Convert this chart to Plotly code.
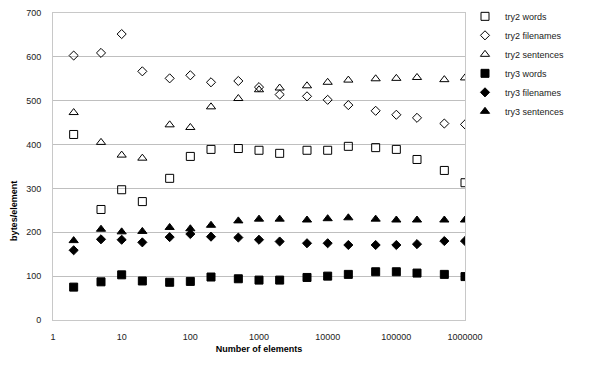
import plotly.graph_objects as go

x_vals = [2, 5, 10, 20, 50, 100, 200, 500, 1000, 2000, 5000, 10000, 20000,
          50000, 100000, 200000, 500000, 1000000]

try2_words = [423, 252, 297, 270, 323, 373, 389, 391, 387, 380, 387, 387, 396,
              393, 389, 366, 341, 313]
try2_filenames = [603, 609, 652, 567, 551, 558, 542, 545, 531, 514, 510, 502, 490,
                  477, 468, 461, 448, 446]
try2_sentences = [473, 405, 376, 369, 445, 439, 486, 505, 525, 529, 534, 542, 547,
                  550, 551, 553, 548, 552]
try3_words = [75, 87, 103, 89, 86, 88, 98, 94, 91, 91, 97, 100, 104,
              110, 110, 107, 104, 99]
try3_filenames = [159, 184, 183, 177, 189, 196, 190, 188, 183, 179, 175, 175, 171,
                  171, 171, 173, 180, 180]
try3_sentences = [181, 207, 201, 202, 211, 208, 216, 226, 230, 230, 228, 231, 233,
                  230, 228, 228, 228, 228]

series = [
    ("try2 words", try2_words, "square-open", 8),
    ("try2 filenames", try2_filenames, "diamond-open", 7),
    ("try2 sentences", try2_sentences, "triangle-up-open", 8),
    ("try3 words", try3_words, "square", 8),
    ("try3 filenames", try3_filenames, "diamond", 7),
    ("try3 sentences", try3_sentences, "triangle-up", 8),
]

fig = go.Figure()
for name, vals, sym, size in series:
    fig.add_trace(go.Scatter(
        x=x_vals, y=vals, mode="markers", name=name,
        marker=dict(symbol=sym, size=size, color="#000000",
                    line=dict(color="#000000", width=1)),
    ))

fig.update_layout(
    width=600, height=366,
    margin=dict(l=53, r=135, t=13, b=46),
    paper_bgcolor="white", plot_bgcolor="white",
    font=dict(family="Liberation Sans, Arial, sans-serif", size=9, color="#222222"),
    showlegend=True,
    legend=dict(x=0.775, y=0.995, xref="container", yref="container",
                xanchor="left", yanchor="top",
                font=dict(size=9), itemwidth=30, tracegroupgap=0,
                bgcolor="rgba(0,0,0,0)"),
    xaxis=dict(
        type="log", range=[0, 6], automargin=False,
        tickvals=[1, 10, 100, 1000, 10000, 100000, 1000000],
        ticktext=["1", "10", "100", "1000", "10000", "100000", "1000000"],
        showgrid=False, showline=True, linecolor="#c8c8c8", linewidth=1,
        mirror=True, ticks="", zeroline=False, ticklabelstandoff=8,
        title=dict(text="<b>Number of elements</b>", font=dict(size=9, color="#000000"),
                   standoff=4),
    ),
    yaxis=dict(
        range=[0, 700], tickvals=[0, 100, 200, 300, 400, 500, 600, 700],
        automargin=False,
        showgrid=True, gridcolor="#bfbfbf", gridwidth=1,
        showline=True, linecolor="#c8c8c8", linewidth=1, mirror=True,
        ticks="", zeroline=False, ticklabelstandoff=9,
    ),
    annotations=[dict(
        text="<b>bytes/element</b>", textangle=-90, showarrow=False,
        xref="paper", yref="paper", x=-0.095, y=0.355,
        xanchor="center", yanchor="middle",
        font=dict(size=9, color="#000000"),
    )],
)

fig.write_html("out.html", config={"displayModeBar": False},
               post_script="document.body.style.margin='0';document.body.style.padding='0';")
